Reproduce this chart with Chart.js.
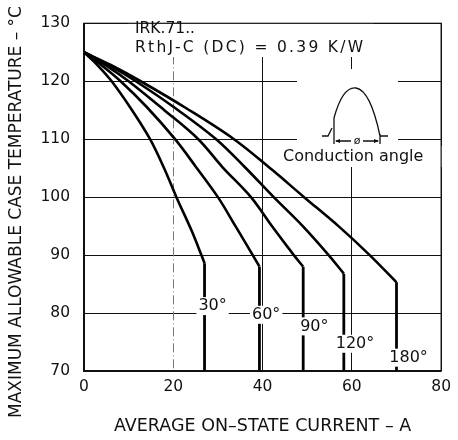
<!DOCTYPE html>
<html>
<head>
<meta charset="utf-8">
<script src="https://cdn.jsdelivr.net/npm/chart.js@4.4.1/dist/chart.umd.min.js"></script>
<style>
  html, body { margin: 0; background: #fff; }
  #wrap { width: 458px; height: 440px; }
</style>
</head>
<body>
<div id="wrap"><canvas id="chart"></canvas></div>
<script>
// conduction angles, one curve each
const angles = ['30°', '60°', '90°', '120°', '180°'];

// average on-state current (A) / max case temperature (°C)
// last two points of each: the knee and the vertical drop to 70 °C
const current30  = [0, 3, 6.2, 10.5, 14.8, 18, 20.7, 24, 26.3, 27.0, 27.0];
const temp30     = [125, 122.8, 120, 115.3, 110, 104.9, 100, 94.4, 90, 88.6, 70];
const current60  = [0, 4, 8.2, 14, 20.4, 25, 30, 34, 37.8, 39.3, 39.3];
const temp60     = [125, 122.7, 120, 115.6, 110, 105.3, 100, 94.9, 90, 88.0, 70];
const current90  = [0, 5, 10, 18, 25.6, 31, 37.4, 42, 47, 49.1, 49.1];
const temp90     = [125, 122.7, 120, 115.0, 110, 105.2, 100, 95.1, 90, 88.0, 70];
const current120 = [0, 6, 11.6, 20, 29.6, 36, 42.5, 49, 54.8, 58.2, 58.2];
const temp120    = [125, 122.6, 120, 115.6, 110, 105.2, 100, 95.0, 90, 86.8, 70];
const current180 = [0, 6, 12.7, 23, 33.6, 42, 49.3, 57, 64, 70, 70];
const temp180    = [125, 122.8, 120, 115.3, 110, 104.8, 100, 95.0, 90, 85.3, 70];

const xTicks = [0, 20, 40, 60, 80];
const yTicks = [70, 80, 90, 100, 110, 120, 130];

const currents = [current30, current60, current90, current120, current180];
const temps = [temp30, temp60, temp90, temp120, temp180];

const FONT = '"DejaVu Sans", sans-serif';
const INK = '#111';

// where the angle labels sit (A, °C)
const labelSpots = [[28.8, 81.2], [40.8, 79.7], [51.6, 77.7], [60.7, 74.7], [72.7, 72.3]];

const decor = {
  id: 'decor',
  beforeDatasetsDraw(chart) {
    const { ctx, chartArea: a, scales: { x } } = chart;
    ctx.save();
    // the 20 A line is dash-dot in the original
    const x20 = Math.round(x.getPixelForValue(20)) + 0.5;
    ctx.strokeStyle = '#777';
    ctx.lineWidth = 1;
    ctx.setLineDash([9, 3, 1, 3]);
    ctx.beginPath(); ctx.moveTo(x20, a.top); ctx.lineTo(x20, a.bottom); ctx.stroke();
    ctx.setLineDash([]);
    // blank patches behind the notes
    ctx.fillStyle = '#fff';
    ctx.fillRect(128, 17, 246, 40);
    ctx.fillRect(297, 69, 101, 78);
    ctx.fillRect(280, 146, 162, 21);
    ctx.restore();
  },
  afterDatasetsDraw(chart) {
    const { ctx, scales: { x, y } } = chart;
    ctx.save();
    ctx.fillStyle = INK;
    ctx.strokeStyle = INK;

    // angle labels with white backing
    ctx.font = '16px ' + FONT;
    ctx.textAlign = 'center';
    ctx.textBaseline = 'middle';
    angles.forEach((t, i) => {
      const px = x.getPixelForValue(labelSpots[i][0]);
      const py = y.getPixelForValue(labelSpots[i][1]);
      const w = ctx.measureText(t).width;
      ctx.fillStyle = '#fff';
      ctx.fillRect(px - w / 2 - 2, py - 9, w + 4, 18);
      ctx.fillStyle = INK;
      ctx.fillText(t, px, py);
    });

    // device notes
    ctx.textAlign = 'left';
    ctx.font = '15.5px ' + FONT;
    ctx.fillText('IRK.71..', 135, 29);
    ctx.letterSpacing = '2.3px';
    ctx.fillText('RthJ-C (DC) = 0.39 K/W', 135, 48);
    ctx.letterSpacing = '0px';
    ctx.font = '16px ' + FONT;
    ctx.fillText('Conduction angle', 283, 157);

    // conduction angle sketch
    ctx.lineWidth = 1.3;
    ctx.beginPath();
    ctx.moveTo(322, 136); ctx.lineTo(328, 136); ctx.lineTo(332, 128);
    ctx.moveTo(334, 144); ctx.lineTo(334, 118);
    ctx.bezierCurveTo(340, 96, 348, 87, 356, 88);
    ctx.bezierCurveTo(368, 90, 375, 112, 380, 136);
    ctx.lineTo(388, 136);
    ctx.moveTo(380, 134); ctx.lineTo(380, 144);
    ctx.moveTo(336, 141); ctx.lineTo(351, 141);
    ctx.moveTo(363, 141); ctx.lineTo(378, 141);
    ctx.stroke();
    ctx.beginPath();
    ctx.moveTo(335, 141); ctx.lineTo(340, 139); ctx.lineTo(340, 143); ctx.closePath();
    ctx.moveTo(379, 141); ctx.lineTo(374, 139); ctx.lineTo(374, 143); ctx.closePath();
    ctx.fill();
    ctx.font = '11px ' + FONT;
    ctx.textAlign = 'center';
    ctx.fillText('ø', 357, 141);

    // y axis title
    ctx.translate(17, 212);
    ctx.rotate(-Math.PI / 2);
    ctx.font = '17px ' + FONT;
    ctx.fillText('MAXIMUM ALLOWABLE CASE TEMPERATURE – °C', 0, 0);
    ctx.restore();
  },
  afterDraw(chart) {
    const { ctx, chartArea: a } = chart;
    ctx.save();
    ctx.strokeStyle = INK;
    ctx.lineWidth = 1.2;
    ctx.strokeRect(a.left, a.top, a.right - a.left, a.bottom - a.top);
    ctx.restore();
  }
};

// each angle: a smooth curve down to the knee, then a straight drop
const datasets = [];
angles.forEach((a, i) => {
  const pts = currents[i].map((c, j) => ({ x: c, y: temps[i][j] }));
  datasets.push({
    label: a, data: pts.slice(0, -1), showLine: true,
    borderColor: '#000', borderWidth: 2.6, pointRadius: 0, tension: 0.35, fill: false
  });
  datasets.push({
    label: a + ' limit', data: pts.slice(-2), showLine: true,
    borderColor: '#000', borderWidth: 2.8, pointRadius: 0, tension: 0, fill: false
  });
});

new Chart(document.getElementById('chart'), {
  type: 'scatter',
  data: { datasets },
  options: {
    responsive: true,
    maintainAspectRatio: false,
    animation: false,
    layout: { padding: { top: 11, right: 12, left: 0, bottom: 0 } },
    plugins: { legend: { display: false }, tooltip: { enabled: false } },
    scales: {
      x: {
        type: 'linear', min: 0, max: 80,
        afterBuildTicks: s => { s.ticks = xTicks.map(v => ({ value: v })); },
        afterFit: s => { s.height = 69; },
        grid: {
          color: c => c.tick && c.tick.value === 20 ? 'rgba(0,0,0,0)' : INK,
          lineWidth: 1, drawTicks: false
        },
        border: { color: INK, width: 1.2 },
        ticks: { padding: 7, color: INK, font: { family: FONT, size: 15.5 } },
        title: {
          display: true, text: 'AVERAGE ON–STATE CURRENT – A', color: INK,
          font: { family: FONT, size: 17.5 }, padding: { top: 0, bottom: 3 }
        }
      },
      y: {
        type: 'linear', min: 70, max: 130,
        afterBuildTicks: s => { s.ticks = yTicks.map(v => ({ value: v })); },
        afterFit: s => { s.width = 84; },
        grid: { color: INK, lineWidth: 1, drawTicks: false },
        border: { color: INK, width: 1.2 },
        ticks: { padding: 14, color: INK, font: { family: FONT, size: 15.5 } }
      }
    }
  },
  plugins: [decor]
});
</script>
</body>
</html>
